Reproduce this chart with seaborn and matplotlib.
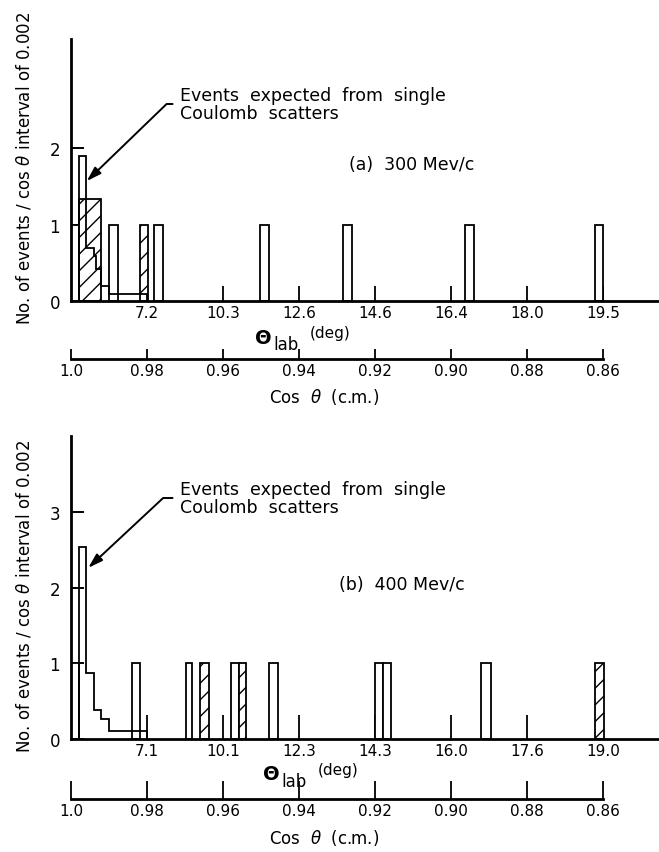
import numpy as np
import matplotlib
matplotlib.use("Agg")
import matplotlib.pyplot as plt
import seaborn as sns

# ---- data (cos theta c.m. positions of bar edges, heights in events / 0.002) ----
cos_ticks = [1.0, 0.98, 0.96, 0.94, 0.92, 0.90, 0.88, 0.86]
cos_labels = ["1.0", "0.98", "0.96", "0.94", "0.92", "0.90", "0.88", "0.86"]
theta_pos = [0.98, 0.96, 0.94, 0.92, 0.90, 0.88, 0.86]
theta_labels_a = ["7.2", "10.3", "12.6", "14.6", "16.4", "18.0", "19.5"]
theta_labels_b = ["7.1", "10.1", "12.3", "14.3", "16.0", "17.6", "19.0"]

# (a) 300 Mev/c
open_a_left = [1.0, 0.9899, 0.9781, 0.9502, 0.9283, 0.8962, 0.8621]
open_a_right = [0.998, 0.9876, 0.9757, 0.9478, 0.9260, 0.8939, 0.8600]
open_a_height = [1, 1, 1, 1, 1, 1, 1]
hatch_a_left = [0.998, 0.9818]
hatch_a_right = [0.992, 0.9797]
hatch_a_height = [1.33, 1]
coul_a_edges = [0.998, 0.996, 0.994, 0.9933, 0.992, 0.990, 0.980]
coul_a_vals = [1.9, 0.7, 0.59, 0.42, 0.2, 0.09]

# (b) 400 Mev/c
open_b_left = [1.0, 0.9839, 0.9698, 0.9580, 0.9479, 0.9201, 0.9179, 0.8920]
open_b_right = [0.998, 0.9818, 0.9682, 0.9557, 0.9456, 0.9179, 0.9157, 0.8895]
open_b_height = [1, 1, 1, 1, 1, 1, 1, 1]
hatch_b_left = [0.9661, 0.9557, 0.8622]
hatch_b_right = [0.9637, 0.9539, 0.8597]
hatch_b_height = [1, 1, 1]
coul_b_edges = [0.998, 0.996, 0.994, 0.992, 0.990, 0.980]
coul_b_vals = [2.53, 0.87, 0.38, 0.26, 0.11]

sns.set_style("ticks")
plt.rcParams["font.family"] = ["DejaVu Sans"]
plt.rcParams["mathtext.fontset"] = "dejavusans"
plt.rcParams["hatch.linewidth"] = 1.0
plt.rcParams["hatch.color"] = "black"
for k in ["text.color", "axes.labelcolor", "xtick.color", "ytick.color",
          "axes.edgecolor"]:
    plt.rcParams[k] = "black"

W, H = 659, 853
fig = plt.figure(figsize=(W / 100, H / 100), dpi=100)


def fx(x):
    return x / W


def fy(y):
    return 1 - y / H


def panel(top, base, ymax, yticks, theta_labels, tlen,
          o_l, o_r, o_h, h_l, h_r, h_h, c_e, c_v,
          cos_y, clen, title, title_y, title_x, text_y, arrow_head, arrow_ang,
          th_xy, coslab_y, ylab_y):
    x0 = 71
    xlim = (1.0, 1.0 - (W - x0) / 3800)
    ax = fig.add_axes([fx(x0), fy(base), fx(W - x0), (base - top) / H])
    ax.set_xlim(xlim)
    ax.set_ylim(0, ymax)
    ax.set_axisbelow(True)
    for s in ["top", "right"]:
        ax.spines[s].set_visible(False)
    for s in ["left", "bottom"]:
        ax.spines[s].set_linewidth(2.0)

    # data bars
    ax.bar(o_l, o_h, width=np.subtract(o_r, o_l), align="edge",
           facecolor="white", edgecolor="black", linewidth=1.3)
    ax.bar(h_l, h_h, width=np.subtract(h_r, h_l), align="edge",
           facecolor="white", edgecolor="black", linewidth=1.3, hatch="//")
    # expected single Coulomb scatters
    ax.stairs(c_v[::-1], c_e[::-1], baseline=0, color="black", linewidth=1.3)

    ax.set_xticks(theta_pos, theta_labels)
    ax.tick_params(axis="x", direction="in", length=tlen, width=1.3, pad=3,
                   labelsize=11)
    ax.set_yticks(yticks, [str(v) for v in yticks])
    ax.tick_params(axis="y", direction="in", length=9, width=1.4, pad=8,
                   labelsize=12)

    ax.text(title_x, title_y, title, fontsize=12.5, ha="left", va="center")
    ax.annotate("Events  expected  from  single\nCoulomb  scatters",
                xy=arrow_head, xycoords="data",
                xytext=(fx(180), fy(text_y)), textcoords="figure fraction",
                fontsize=12.5, ha="left", va="center", linespacing=1.0,
                arrowprops=dict(arrowstyle="-|>,head_length=0.7,head_width=0.22",
                                color="black", lw=1.4, relpos=(0, 0.5),
                                shrinkA=3, shrinkB=0,
                                connectionstyle="angle,angleA=0,angleB=%d,rad=0" % arrow_ang))

    # cos theta (c.m.) scale
    cx = fig.add_axes([fx(x0), fy(cos_y), fx(W - x0), 0.0001])
    cx.set_xlim(xlim)
    for s in ["top", "right", "left"]:
        cx.spines[s].set_visible(False)
    cx.spines["bottom"].set_linewidth(2.0)
    cx.spines["bottom"].set_bounds(cos_ticks[0], cos_ticks[-1])
    cx.set_yticks([])
    cx.set_xticks(cos_ticks, cos_labels)
    cx.tick_params(axis="x", direction="in", length=clen, width=1.3, pad=3,
                   labelsize=11)

    # Theta_lab (deg) label
    tx, ty = th_xy
    fig.text(fx(tx), fy(ty), r"$\mathbf{\Theta}$", fontsize=14, ha="center", va="center")
    fig.text(fx(tx + 10), fy(ty + 7), "lab", fontsize=12, ha="left", va="center")
    fig.text(fx(tx + 47), fy(ty - 4), "(deg)", fontsize=11, ha="left", va="center")

    fig.text(fx(324), fy(coslab_y), r"Cos  $\theta$  (c.m.)", fontsize=12,
             ha="center", va="center")
    fig.text(fx(24), fy(ylab_y), r"No. of events / cos $\theta$ interval of 0.002",
             fontsize=12, rotation=90, ha="center", va="center")
    return ax


panel(40, 302, 3.43, [0, 1, 2], theta_labels_a, 11,
      open_a_left, open_a_right, open_a_height,
      hatch_a_left, hatch_a_right, hatch_a_height,
      coul_a_edges, coul_a_vals,
      360, 7, "(a)  300 Mev/c", 1.8, 0.9268, 105, (0.99585, 1.57), 44,
      (263, 338), 397, 168)

panel(437, 740, 4.0, [0, 1, 2, 3], theta_labels_b, 17,
      open_b_left, open_b_right, open_b_height,
      hatch_b_left, hatch_b_right, hatch_b_height,
      coul_b_edges, coul_b_vals,
      800, 13, "(b)  400 Mev/c", 2.05, 0.9295, 499, (0.99545, 2.26), 43,
      (271, 775), 838, 596)

fig.savefig("out.png", dpi=100)
